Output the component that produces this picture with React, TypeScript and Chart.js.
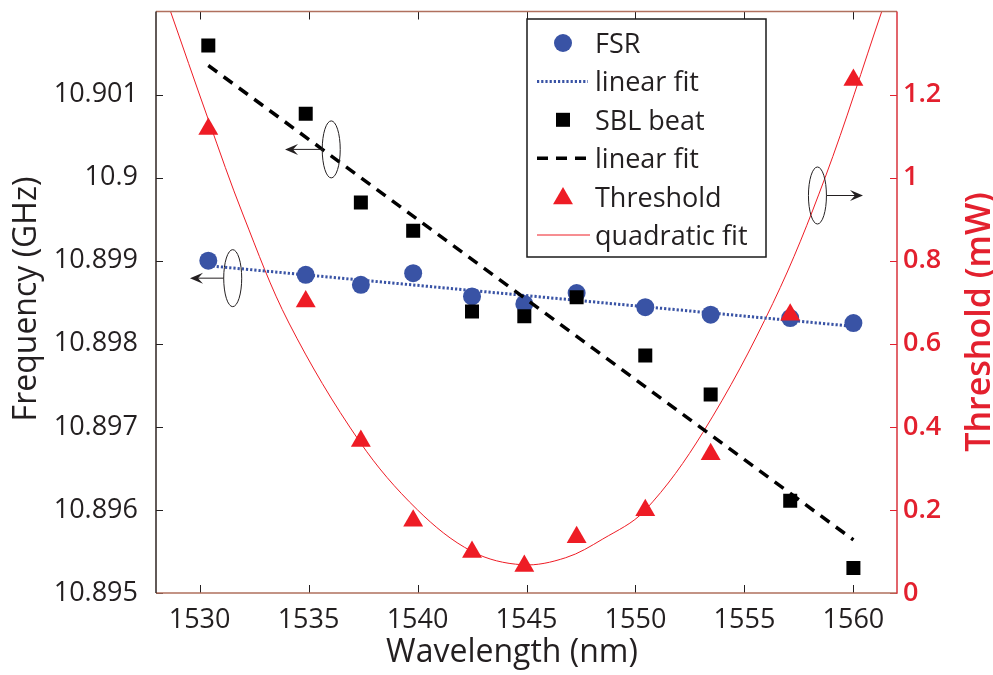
import React, { useEffect, useRef } from 'react';
import { Chart, registerables } from 'chart.js';

Chart.register(...registerables);

// ---- data ----
const wavelengths = [1530.4, 1534.87, 1537.4, 1539.8, 1542.5, 1544.9, 1547.3, 1550.45, 1553.45, 1557.1, 1560.0];
const fsrValues = [10.899, 10.89883, 10.89871, 10.89885, 10.89857, 10.89848, 10.89861, 10.89844, 10.89835, 10.89831, 10.89825];
const sblValues = [10.90159, 10.90077, 10.8997, 10.89936, 10.89839, 10.89833, 10.89856, 10.89786, 10.89739, 10.89611, 10.8953];
const thresholdValues = [1.117, 0.702, 0.366, 0.174, 0.099, 0.065, 0.134, 0.199, 0.334, 0.67, 1.235];

const fsrFitX = [1530.4, 1560.0];
const fsrFitY = [10.89894, 10.89821];
const sblFitX = [1530.4, 1560.0];
const sblFitY = [10.90135, 10.89564];
const quadFitX = [1528.6, 1530.4, 1532.0, 1534.1, 1537.35, 1540.0, 1542.5, 1544.8, 1546.8, 1548.5, 1550.4, 1553.1, 1556.3, 1558.7, 1561.3];
const quadFitY = [1.41, 1.14, 0.91, 0.65, 0.364, 0.2, 0.1, 0.068, 0.085, 0.13, 0.197, 0.387, 0.697, 1.0, 1.4];

const xTicks = [1530, 1535, 1540, 1545, 1550, 1555, 1560];
const leftTicks = [10.895, 10.896, 10.897, 10.898, 10.899, 10.9, 10.901];
const leftTickLabels = ['10.895', '10.896', '10.897', '10.898', '10.899', '10.9', '10.901'];
const rightTicks = [0, 0.2, 0.4, 0.6, 0.8, 1, 1.2];
const rightTickLabels = ['0', '0.2', '0.4', '0.6', '0.8', '1', '1.2'];

const legendLabels = ['FSR', 'linear fit', 'SBL beat', 'linear fit', 'Threshold', 'quadratic fit'];

// annotation ellipses (data units): [centerX, centerY, arrowTipX, axis]
const annotations: [number, number, number, string][] = [
  [1536.04, 10.90034, 1533.92, 'y'],
  [1531.52, 10.89879, 1529.56, 'y'],
  [1558.35, 0.957, 1560.44, 'y1'],
];

const FONT = '"Open Sans", "Liberation Sans", sans-serif';
const DARK = '#231f20';
const RED = '#e3202e';
const LINE_RED = '#ee1c25';
const BLUE = '#3953a5';

function pts(xs: number[], ys: number[]) {
  return xs.map((x, i) => ({ x, y: ys[i] }));
}

function drawTri(ctx: CanvasRenderingContext2D, x: number, y: number, r: number) {
  ctx.beginPath();
  ctx.moveTo(x, y - r);
  ctx.lineTo(x + r * Math.sin((2 * Math.PI) / 3), y - r * Math.cos((2 * Math.PI) / 3));
  ctx.lineTo(x + r * Math.sin((4 * Math.PI) / 3), y - r * Math.cos((4 * Math.PI) / 3));
  ctx.closePath();
  ctx.fill();
}

function arrowHead(ctx: CanvasRenderingContext2D, tipX: number, y: number, dir: number) {
  ctx.beginPath();
  ctx.moveTo(tipX, y);
  ctx.lineTo(tipX - dir * 13, y - 5.5);
  ctx.lineTo(tipX - dir * 8, y);
  ctx.lineTo(tipX - dir * 13, y + 5.5);
  ctx.closePath();
  ctx.fill();
}

function noPad(s: any) {
  s.paddingTop = 0;
  s.paddingBottom = 0;
  s.paddingLeft = 0;
  s.paddingRight = 0;
}

const decorPlugin = {
  id: 'decor',
  afterDatasetsDraw(chart: any) {
    const ctx: CanvasRenderingContext2D = chart.ctx;
    const sx = chart.scales.x;
    ctx.save();
    ctx.strokeStyle = DARK;
    ctx.fillStyle = DARK;
    ctx.lineWidth = 1;
    annotations.forEach(([cx, cy, tip, axis]) => {
      const px = sx.getPixelForValue(cx);
      const py = chart.scales[axis].getPixelForValue(cy);
      const tx = sx.getPixelForValue(tip);
      const rx = 9;
      const ry = 28.5;
      ctx.beginPath();
      ctx.ellipse(px, py, rx, ry, 0, 0, Math.PI * 2);
      ctx.stroke();
      const dir = tx > px ? 1 : -1;
      ctx.beginPath();
      ctx.moveTo(px + dir * rx, py);
      ctx.lineTo(tx - dir * 8, py);
      ctx.stroke();
      arrowHead(ctx, tx, py, dir);
    });
    ctx.restore();
  },
  afterDraw(chart: any) {
    const ctx: CanvasRenderingContext2D = chart.ctx;
    const a = chart.chartArea;
    const sx = chart.scales.x;
    const sy = chart.scales.y;
    const sy1 = chart.scales.y1;
    ctx.save();
    // tick marks (inward)
    ctx.lineWidth = 1;
    ctx.strokeStyle = DARK;
    xTicks.forEach((v) => {
      const px = Math.round(sx.getPixelForValue(v)) + 0.5;
      ctx.beginPath();
      ctx.moveTo(px, a.bottom);
      ctx.lineTo(px, a.bottom - 8);
      ctx.moveTo(px, a.top);
      ctx.lineTo(px, a.top + 8);
      ctx.stroke();
    });
    leftTicks.forEach((v) => {
      const py = Math.round(sy.getPixelForValue(v)) + 0.5;
      ctx.beginPath();
      ctx.moveTo(a.left, py);
      ctx.lineTo(a.left + 7, py);
      ctx.stroke();
    });
    ctx.strokeStyle = RED;
    rightTicks.forEach((v) => {
      const py = Math.round(sy1.getPixelForValue(v)) + 0.5;
      ctx.beginPath();
      ctx.moveTo(a.right, py);
      ctx.lineTo(a.right - 7, py);
      ctx.stroke();
    });
    // frame
    ctx.lineWidth = 1.5;
    ctx.strokeStyle = '#b0705e';
    ctx.beginPath();
    ctx.moveTo(a.left, a.top);
    ctx.lineTo(a.right, a.top);
    ctx.moveTo(a.left, a.bottom);
    ctx.lineTo(a.right, a.bottom);
    ctx.stroke();
    ctx.strokeStyle = '#2e2321';
    ctx.beginPath();
    ctx.moveTo(a.left, a.top);
    ctx.lineTo(a.left, a.bottom);
    ctx.stroke();
    ctx.strokeStyle = '#d8323b';
    ctx.beginPath();
    ctx.moveTo(a.right, a.top);
    ctx.lineTo(a.right, a.bottom + 0.75);
    ctx.stroke();

    // axis titles
    ctx.textAlign = 'center';
    ctx.textBaseline = 'alphabetic';
    ctx.fillStyle = DARK;
    ctx.font = `32px ${FONT}`;
    ctx.fillText('Wavelength (nm)', 512, 662);
    ctx.save();
    ctx.translate(36, 299);
    ctx.rotate(-Math.PI / 2);
    ctx.fillText('Frequency (GHz)', 0, 0);
    ctx.restore();
    ctx.save();
    ctx.fillStyle = RED;
    ctx.font = `600 34px ${FONT}`;
    ctx.translate(990, 322);
    ctx.rotate(-Math.PI / 2);
    ctx.fillText('Threshold (mW)', 0, 0);
    ctx.restore();

    // legend
    const lx = 527, ly = 19, lw = 239, lh = 238;
    ctx.fillStyle = '#ffffff';
    ctx.fillRect(lx, ly, lw, lh);
    ctx.strokeStyle = '#1a1a1a';
    ctx.lineWidth = 1.5;
    ctx.strokeRect(lx, ly, lw, lh);
    const rowY = (i: number) => 43 + i * 38.4;
    const symX = 563;
    // FSR
    ctx.fillStyle = BLUE;
    ctx.beginPath();
    ctx.arc(symX, rowY(0), 9, 0, Math.PI * 2);
    ctx.fill();
    // linear fit (dotted blue)
    ctx.strokeStyle = BLUE;
    ctx.lineWidth = 3;
    ctx.setLineDash([2.2, 2]);
    ctx.beginPath();
    ctx.moveTo(537, rowY(1));
    ctx.lineTo(588, rowY(1));
    ctx.stroke();
    // SBL beat
    ctx.setLineDash([]);
    ctx.fillStyle = '#000000';
    ctx.fillRect(symX - 7, rowY(2) - 7, 14, 14);
    // linear fit (dashed black)
    ctx.strokeStyle = '#000000';
    ctx.lineWidth = 3.5;
    ctx.setLineDash([11, 8]);
    ctx.beginPath();
    ctx.moveTo(537, rowY(3));
    ctx.lineTo(590, rowY(3));
    ctx.stroke();
    ctx.setLineDash([]);
    // Threshold
    ctx.fillStyle = LINE_RED;
    drawTri(ctx, symX, rowY(4) + 2, 11.5);
    // quadratic fit
    ctx.strokeStyle = LINE_RED;
    ctx.lineWidth = 1;
    ctx.beginPath();
    ctx.moveTo(537, rowY(5));
    ctx.lineTo(590, rowY(5));
    ctx.stroke();
    // labels
    ctx.fillStyle = DARK;
    ctx.font = `27px ${FONT}`;
    ctx.textAlign = 'left';
    ctx.textBaseline = 'alphabetic';
    legendLabels.forEach((t, i) => {
      ctx.fillText(t, 595, rowY(i) + 10);
    });
    ctx.restore();
  },
};

export default function App() {
  const ref = useRef<HTMLCanvasElement | null>(null);
  useEffect(() => {
    if (!ref.current) return;
    const tickFont = { family: FONT, size: 27 };
    const chart = new Chart(ref.current, {
      type: 'scatter',
      data: {
        datasets: [
          {
            label: 'Threshold',
            data: pts(wavelengths, thresholdValues),
            yAxisID: 'y1',
            pointStyle: 'triangle',
            pointRadius: 11.5,
            backgroundColor: LINE_RED,
            borderWidth: 0,
            showLine: false,
            order: 0,
          },
          {
            label: 'SBL beat',
            data: pts(wavelengths, sblValues),
            yAxisID: 'y',
            pointStyle: 'rect',
            pointRadius: 9.9,
            backgroundColor: '#000000',
            borderWidth: 0,
            showLine: false,
            order: 1,
          },
          {
            label: 'linear fit (SBL)',
            data: pts(sblFitX, sblFitY),
            yAxisID: 'y',
            showLine: true,
            borderColor: '#000000',
            borderWidth: 3.5,
            borderDash: [11, 8],
            pointRadius: 0,
            order: 2,
          },
          {
            label: 'FSR',
            data: pts(wavelengths, fsrValues),
            yAxisID: 'y',
            pointStyle: 'circle',
            pointRadius: 9,
            backgroundColor: BLUE,
            borderWidth: 0,
            showLine: false,
            order: 3,
          },
          {
            label: 'linear fit (FSR)',
            data: pts(fsrFitX, fsrFitY),
            yAxisID: 'y',
            showLine: true,
            borderColor: BLUE,
            borderWidth: 3,
            borderDash: [2.2, 2],
            pointRadius: 0,
            order: 4,
          },
          {
            label: 'quadratic fit',
            data: pts(quadFitX, quadFitY),
            yAxisID: 'y1',
            showLine: true,
            borderColor: LINE_RED,
            borderWidth: 1,
            pointRadius: 0,
            tension: 0.35,
            order: 5,
          },
        ],
      },
      options: {
        animation: false,
        responsive: false,
        maintainAspectRatio: false,
        devicePixelRatio: 1,
        layout: { padding: { top: 5, left: 0, right: 0, bottom: 0 } },
        plugins: { legend: { display: false }, tooltip: { enabled: false } },
        scales: {
          x: {
            type: 'linear',
            min: 1528,
            max: 1562,
            grid: { display: false, drawTicks: false },
            border: { display: false },
            afterBuildTicks: (s: any) => {
              s.ticks = xTicks.map((v) => ({ value: v }));
            },
            afterFit: (s: any) => {
              s.height = 82;
              noPad(s);
            },
            ticks: {
              autoSkip: false,
              maxRotation: 0,
              padding: 11,
              font: tickFont,
              color: DARK,
              callback: (v: any) => String(v),
            },
          },
          y: {
            type: 'linear',
            position: 'left',
            min: 10.895,
            max: 10.902,
            grid: { display: false, drawTicks: false },
            border: { display: false },
            afterBuildTicks: (s: any) => {
              s.ticks = leftTicks.map((v) => ({ value: v }));
            },
            afterFit: (s: any) => {
              s.width = 156;
              noPad(s);
            },
            ticks: {
              autoSkip: false,
              padding: 18,
              font: tickFont,
              color: DARK,
              callback: (v: any) => {
                const i = leftTicks.findIndex((t) => Math.abs(t - v) < 1e-7);
                return i >= 0 ? leftTickLabels[i] : '';
              },
            },
          },
          y1: {
            type: 'linear',
            position: 'right',
            min: 0,
            max: 1.4,
            grid: { display: false, drawTicks: false },
            border: { display: false },
            afterBuildTicks: (s: any) => {
              s.ticks = rightTicks.map((v) => ({ value: v }));
            },
            afterFit: (s: any) => {
              s.width = 96;
              noPad(s);
            },
            ticks: {
              autoSkip: false,
              padding: 6,
              font: { family: FONT, size: 27, weight: '600' },
              color: RED,
              callback: (v: any) => {
                const i = rightTicks.findIndex((t) => Math.abs(t - v) < 1e-7);
                return i >= 0 ? rightTickLabels[i] : '';
              },
            },
          },
        },
      },
      plugins: [decorPlugin],
    } as any);
    return () => chart.destroy();
  }, []);
  return (
    <div style={{ position: 'fixed', left: 0, top: 0, width: 993, height: 675, background: '#fff' }}>
      <canvas ref={ref} width={993} height={675} style={{ display: 'block', width: 993, height: 675 }} />
    </div>
  );
}
